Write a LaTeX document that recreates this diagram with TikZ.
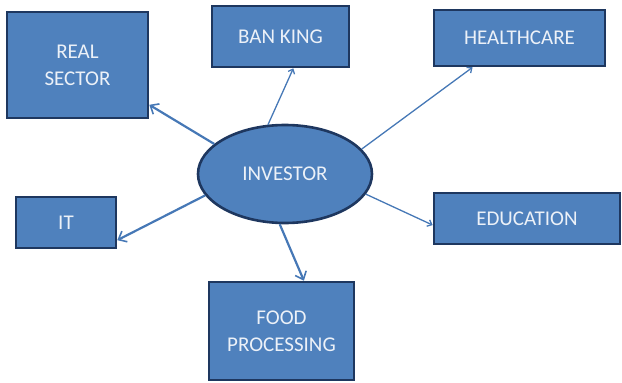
\documentclass[tikz,border=0pt]{standalone}
\usepackage{fontspec}
\setmainfont{Carlito}
\usepackage{xcolor}
\usetikzlibrary{arrows.meta,shapes.geometric}

\definecolor{boxblue}{RGB}{79,129,189}
\definecolor{boxedge}{RGB}{30,55,95}
\definecolor{linkblue}{RGB}{70,120,182}
\definecolor{labelwhite}{RGB}{236,241,248}

\begin{document}
\begin{tikzpicture}[x=1pt, y=-1pt]
        \tikzset{sector/.style={rectangle, draw=boxedge, fill=boxblue, line width=2.6pt, text=labelwhite, align=center, font=\fontsize{21}{27}\selectfont, inner sep=0pt}}
        \tikzset{hub/.style={ellipse, draw=boxedge, fill=boxblue, line width=2.6pt, text=labelwhite, font=\fontsize{21}{27}\selectfont, minimum width=174pt, minimum height=98pt, inner sep=0pt}}
        \tikzset{link/.style={draw=linkblue, line width=2.2pt, -{Straight Barb[length=7pt, width=12pt, line width=1.6pt]}}}
        \tikzset{thinlink/.style={draw=linkblue, line width=1.3pt, -{Straight Barb[length=4pt, width=7pt]}}}
        \useasboundingbox (0,0) rectangle (622,383);

        % Centre node
        \node [hub] (inv) at (285,174) {INVESTOR};

        % Sector boxes around it
        \node [sector, minimum width=141pt, minimum height=106pt] (real) at (77.5,65) {REAL\\SECTOR};
        \node [sector, minimum width=137pt, minimum height=61pt] (bank) at (280.5,36.5) {BAN KING};
        \node [sector, minimum width=171pt, minimum height=56pt] (health) at (519.5,38) {HEALTHCARE};
        \node [sector, minimum width=100pt, minimum height=51pt] (it) at (66,222.5) {IT};
        \node [sector, minimum width=186pt, minimum height=51pt] (edu) at (527,218.5) {EDUCATION};
        \node [sector, minimum width=145pt, minimum height=98pt] (food) at (281.5,331) {FOOD\\PROCESSING};

        % Links from the investor
        \draw [link] (inv.157) -- (real.-29);
        \draw [thinlink] (inv.109) -- (bank.-68);
        \draw [thinlink] (inv.18) -- (health.-148);
        \draw [link] (inv.195) -- (it.-19);
        \draw [thinlink] (inv.-14) -- (edu.184);
        \draw [link] (inv.-96) -- (food.66);
    \end{tikzpicture}
\end{document}
